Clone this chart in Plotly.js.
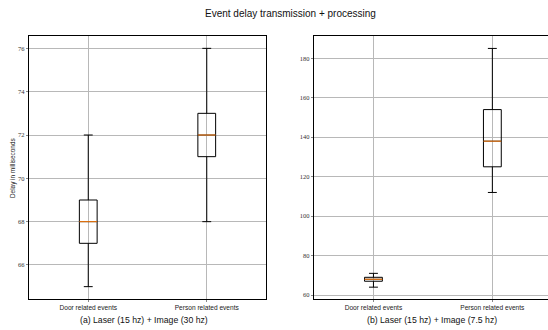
<!DOCTYPE html>
<html>
<head>
<meta charset="utf-8">
<script src="https://cdn.plot.ly/plotly-3.0.1.min.js"></script>
<style>html,body{margin:0;padding:0;background:#fff;}#chart{width:548px;height:330px;}</style>
</head>
<body>
<div id="chart"></div>
<script>
// Data
const categories = ["Door related events", "Person related events"];
const positions = [1, 2];
// Panel (a): Laser (15 hz) + Image (30 hz)
const aLower = [65, 68];
const aQ1 = [67, 71];
const aMedian = [68, 72];
const aQ3 = [69, 73];
const aUpper = [72, 76];
// Panel (b): Laser (15 hz) + Image (7.5 hz)
const bLower = [64, 112];
const bQ1 = [67, 125];
const bMedian = [68, 138];
const bQ3 = [69, 154];
const bUpper = [71, 185];

const titleText = "Event delay transmission + processing";
const subA = "(a) Laser (15 hz) + Image (30 hz)";
const subB = "(b) Laser (15 hz) + Image (7.5 hz)";
const yTitle = "Delay in milliseconds";

const boxW = 0.15;
const traces = [];
function addPanel(lo, q1, med, q3, hi, xa, ya) {
  for (let i = 0; i < positions.length; i++) {
    traces.push({
      type: "box", x: [positions[i]], q1: [q1[i]], median: [med[i]], q3: [q3[i]],
      lowerfence: [lo[i]], upperfence: [hi[i]], width: boxW, whiskerwidth: 0.5,
      line: {color: "#000", width: 1}, fillcolor: "rgba(255,255,255,0)",
      xaxis: xa, yaxis: ya, showlegend: false, hoverinfo: "skip"
    });
    traces.push({
      type: "scatter", mode: "lines",
      x: [positions[i] - boxW / 2, positions[i] + boxW / 2], y: [med[i], med[i]],
      line: {color: "#ff7f0e", width: 1}, xaxis: xa, yaxis: ya,
      showlegend: false, hoverinfo: "skip"
    });
  }
}
addPanel(aLower, aQ1, aMedian, aQ3, aUpper, "x", "y");
addPanel(bLower, bQ1, bMedian, bQ3, bUpper, "x2", "y2");

const tickFontY = {family: "Liberation Serif, DejaVu Serif, serif", size: 6.5, color: "#333"};
const tickFontX = {family: "Liberation Sans, Arial, sans-serif", size: 6.6, color: "#222"};
const gridC = "#b8b8b8";
const yDom = [1 - 299 / 330, 1 - 36 / 330];
const sans = "Liberation Sans, Arial, sans-serif";

const layout = {
  width: 548, height: 330,
  margin: {l: 0, r: 0, t: 0, b: 0},
  paper_bgcolor: "#fff", plot_bgcolor: "#fff",
  showlegend: false,
  xaxis: {
    domain: [29 / 548, 266 / 548], range: [0.5, 2.5], tickvals: positions, ticktext: categories,
    showgrid: true, gridcolor: gridC, gridwidth: 1, zeroline: false,
    showline: true, linecolor: "#000", linewidth: 1.2, mirror: true,
    ticks: "outside", ticklen: 2, tickcolor: "#888", tickfont: tickFontX, anchor: "y"
  },
  yaxis: {
    domain: yDom, range: [64.43, 76.57], tickvals: [66, 68, 70, 72, 74, 76],
    showgrid: true, gridcolor: gridC, gridwidth: 1, zeroline: false,
    showline: true, linecolor: "#000", linewidth: 1.2, mirror: true,
    ticks: "outside", ticklen: 2, tickcolor: "#888", tickfont: tickFontY, anchor: "x"
  },
  xaxis2: {
    domain: [314 / 548, 1], range: [0.5, 2.468], tickvals: positions, ticktext: categories,
    showgrid: true, gridcolor: gridC, gridwidth: 1, zeroline: false,
    showline: true, linecolor: "#000", linewidth: 1.2, mirror: true,
    ticks: "outside", ticklen: 2, tickcolor: "#888", tickfont: tickFontX, anchor: "y2"
  },
  yaxis2: {
    domain: yDom, range: [58, 191.3], tickvals: [60, 80, 100, 120, 140, 160, 180],
    showgrid: true, gridcolor: gridC, gridwidth: 1, zeroline: false,
    showline: true, linecolor: "#000", linewidth: 1.2, mirror: false,
    ticks: "outside", ticklen: 2, tickcolor: "#888", tickfont: tickFontY, anchor: "x2"
  },
  annotations: [
    {text: titleText, xref: "paper", yref: "paper", x: 290 / 548, y: 1 - 13 / 330,
     showarrow: false, xanchor: "center", yanchor: "middle",
     font: {family: sans, size: 10, color: "#111"}},
    {text: subA, xref: "paper", yref: "paper", x: 144 / 548, y: 1 - 320 / 330,
     showarrow: false, xanchor: "center", yanchor: "middle",
     font: {family: sans, size: 8.7, color: "#111"}},
    {text: subB, xref: "paper", yref: "paper", x: 432 / 548, y: 1 - 320 / 330,
     showarrow: false, xanchor: "center", yanchor: "middle",
     font: {family: sans, size: 8.7, color: "#111"}},
    {text: yTitle, xref: "paper", yref: "paper", x: 13 / 548, y: 1 - 168 / 330,
     showarrow: false, xanchor: "center", yanchor: "middle", textangle: -90,
     font: {family: sans, size: 6.4, color: "#222"}}
  ]
};

Plotly.newPlot("chart", traces, layout, {staticPlot: true, displayModeBar: false});
</script>
</body>
</html>
